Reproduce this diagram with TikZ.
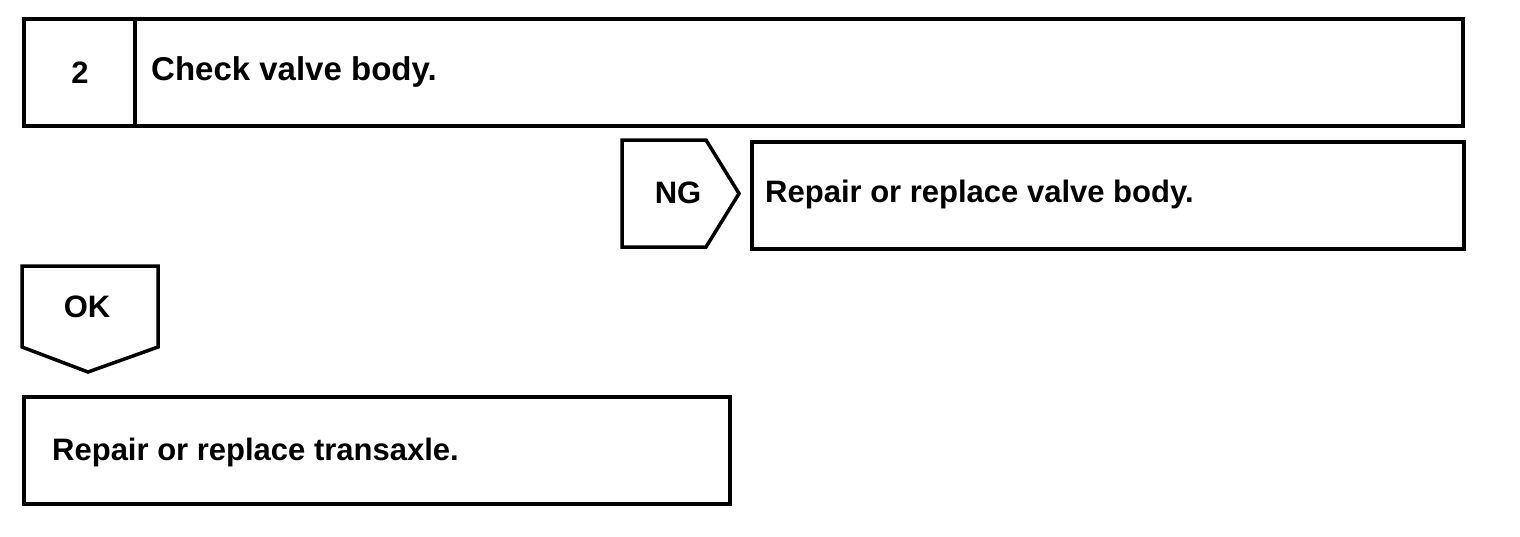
\documentclass[tikz,border=0pt]{standalone}
\usepackage{fontspec}
\setmainfont{Liberation Sans}
\usetikzlibrary{positioning}

\begin{document}
\begin{tikzpicture}[
  x=1pt, y=-1pt,
  font=\fontsize{31}{36}\selectfont\bfseries,
  frame/.style={draw, line width=3.5pt, minimum height=107pt, anchor=north west,
                inner sep=0pt},
  lbl/.style={anchor=base west, inner sep=0pt},
  tag/.style={anchor=base, inner sep=0pt},
  edge/.style={draw, line width=3.5pt, line join=miter}
]
\useasboundingbox (0,0) rectangle (1520,536);

% step header
\node[frame, minimum width=1439pt] (step) at (22,17) {};
\draw[edge] (135,17) -- (135,124);
\node[tag] (num) at (80,83) {2};
\node[lbl, font=\fontsize{33}{38}\selectfont\bfseries] (check) at (151,80) {Check valve body.};

% NG branch
\draw[edge] (706,140) -- (622,140) -- (622,247) -- (706,247) -- (739,193.5) -- cycle;
\node[tag] (ng) at (678,203) {NG};
\node[frame, minimum width=712pt] (valve) at (750,140) {};
\node[lbl] (repvalve) at (765,202) {Repair or replace valve body.};

% OK branch
\draw[edge] (22,266) -- (158,266) -- (158,347) -- (88,372) -- (22,347) -- cycle;
\node[tag] (ok) at (87,317) {OK};
\node[frame, minimum width=706pt] (trans) at (22,395) {};
\node[lbl] (reptrans) at (52,460) {Repair or replace transaxle.};
\end{tikzpicture}
\end{document}
